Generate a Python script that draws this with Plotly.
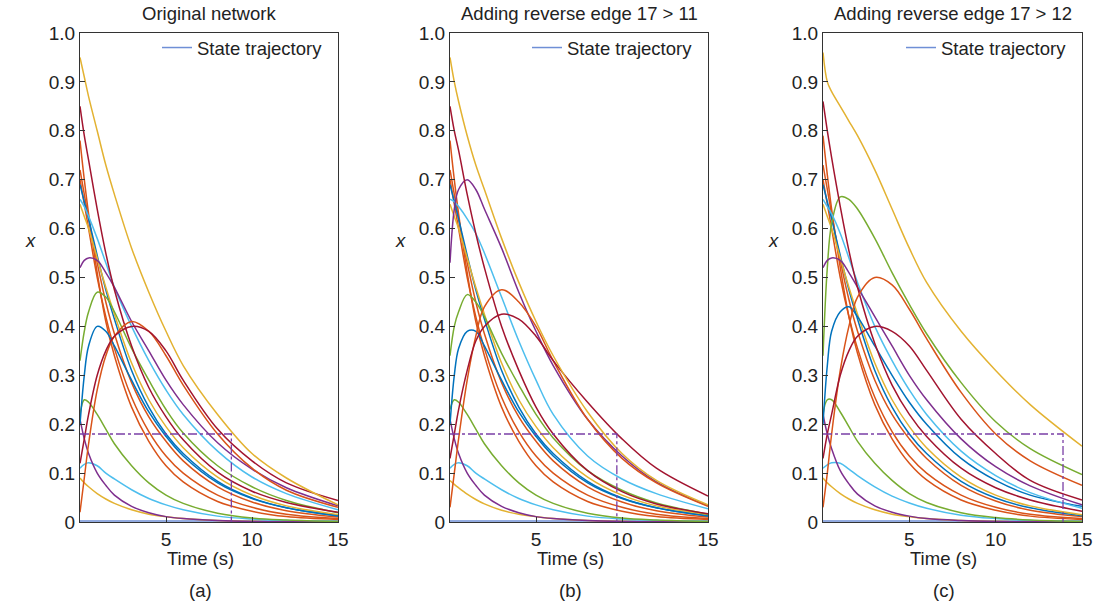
import plotly.graph_objects as go

# Sample times (s) shared by every trajectory
t = [0, 0.25, 0.5, 1, 1.5, 2, 3, 4, 5, 6, 8, 10, 12, 15]

# MATLAB-style line colours
BLUE, ORANGE, YELLOW, PURPLE = "#0072BD", "#D95319", "#E3B231", "#7E2F8E"
GREEN, LIGHTBLUE, DARKRED = "#77AC30", "#4DBEEE", "#A2142F"
BASE = "#6f8fd6"

# ---------------- (a) Original network ----------------
a_yellow_top = [0.95, 0.91, 0.87, 0.80, 0.73, 0.67, 0.56, 0.47, 0.39, 0.32, 0.22, 0.14, 0.09, 0.035]
a_darkred_fast = [0.85, 0.79, 0.74, 0.64, 0.55, 0.475, 0.36, 0.275, 0.215, 0.168, 0.102, 0.063, 0.04, 0.02]
a_orange_1 = [0.78, 0.70, 0.63, 0.51, 0.41, 0.34, 0.235, 0.165, 0.115, 0.082, 0.042, 0.022, 0.011, 0.005]
a_orange_2 = [0.72, 0.67, 0.62, 0.53, 0.45, 0.385, 0.285, 0.215, 0.165, 0.125, 0.072, 0.041, 0.023, 0.01]
a_orange_3 = [0.70, 0.65, 0.60, 0.50, 0.42, 0.355, 0.255, 0.185, 0.135, 0.10, 0.055, 0.03, 0.016, 0.007]
a_blue_2 = [0.69, 0.655, 0.62, 0.545, 0.475, 0.415, 0.31, 0.235, 0.18, 0.14, 0.083, 0.049, 0.029, 0.013]
a_yellow_2 = [0.65, 0.625, 0.60, 0.54, 0.48, 0.425, 0.325, 0.25, 0.195, 0.152, 0.092, 0.055, 0.033, 0.015]
a_lightblue = [0.66, 0.645, 0.625, 0.58, 0.53, 0.48, 0.40, 0.33, 0.27, 0.22, 0.145, 0.092, 0.058, 0.025]
a_purple = [0.52, 0.535, 0.54, 0.535, 0.51, 0.48, 0.41, 0.35, 0.29, 0.24, 0.162, 0.108, 0.07, 0.033]
a_green = [0.33, 0.39, 0.43, 0.47, 0.46, 0.43, 0.355, 0.29, 0.23, 0.182, 0.115, 0.072, 0.044, 0.019]
a_blue = [0.20, 0.30, 0.36, 0.40, 0.39, 0.36, 0.29, 0.225, 0.175, 0.135, 0.08, 0.048, 0.029, 0.012]
a_orange_late = [0.02, 0.09, 0.16, 0.27, 0.34, 0.38, 0.41, 0.39, 0.34, 0.28, 0.18, 0.11, 0.065, 0.03]
a_darkred_late = [0.12, 0.17, 0.22, 0.30, 0.35, 0.38, 0.40, 0.39, 0.35, 0.29, 0.19, 0.125, 0.08, 0.044]
a_green_low = [0.22, 0.25, 0.245, 0.22, 0.19, 0.16, 0.115, 0.08, 0.055, 0.038, 0.018, 0.008, 0.004, 0.001]
a_purple_low = [0.21, 0.17, 0.14, 0.10, 0.075, 0.055, 0.032, 0.019, 0.011, 0.007, 0.003, 0.001, 0.0005, 0.0]
a_lightblue_low = [0.11, 0.118, 0.121, 0.115, 0.10, 0.088, 0.066, 0.048, 0.035, 0.025, 0.012, 0.006, 0.003, 0.001]
a_yellow_low = [0.09, 0.08, 0.072, 0.058, 0.047, 0.038, 0.025, 0.016, 0.011, 0.007, 0.003, 0.0015, 0.0007, 0.0002]

# ---------------- (b) Adding reverse edge 17 > 11 ----------------
b_yellow_top = [0.95, 0.90, 0.86, 0.79, 0.73, 0.68, 0.58, 0.49, 0.41, 0.34, 0.225, 0.14, 0.085, 0.035]
b_darkred_fast = [0.85, 0.80, 0.76, 0.67, 0.59, 0.52, 0.40, 0.31, 0.235, 0.18, 0.105, 0.062, 0.037, 0.017]
b_orange_1 = [0.78, 0.70, 0.63, 0.51, 0.41, 0.34, 0.235, 0.165, 0.115, 0.082, 0.042, 0.022, 0.011, 0.005]
b_orange_2 = [0.72, 0.67, 0.62, 0.53, 0.45, 0.385, 0.285, 0.215, 0.165, 0.125, 0.072, 0.041, 0.023, 0.01]
b_orange_3 = [0.70, 0.65, 0.60, 0.50, 0.42, 0.355, 0.255, 0.185, 0.135, 0.10, 0.055, 0.03, 0.016, 0.007]
b_blue_2 = [0.69, 0.655, 0.62, 0.545, 0.475, 0.415, 0.31, 0.235, 0.18, 0.14, 0.083, 0.049, 0.029, 0.013]
b_yellow_2 = [0.65, 0.625, 0.60, 0.54, 0.48, 0.425, 0.325, 0.25, 0.195, 0.152, 0.092, 0.055, 0.033, 0.015]
b_lightblue = [0.66, 0.655, 0.645, 0.62, 0.59, 0.55, 0.46, 0.37, 0.29, 0.22, 0.135, 0.088, 0.058, 0.027]
b_purple = [0.53, 0.64, 0.68, 0.70, 0.68, 0.64, 0.56, 0.47, 0.39, 0.32, 0.21, 0.135, 0.082, 0.033]
b_green = [0.34, 0.40, 0.43, 0.465, 0.45, 0.42, 0.345, 0.28, 0.22, 0.172, 0.105, 0.065, 0.039, 0.016]
b_blue = [0.20, 0.30, 0.355, 0.39, 0.39, 0.36, 0.29, 0.225, 0.175, 0.135, 0.08, 0.048, 0.029, 0.012]
b_orange_late = [0.03, 0.10, 0.17, 0.29, 0.38, 0.44, 0.475, 0.45, 0.40, 0.33, 0.21, 0.13, 0.08, 0.032]
b_darkred_late = [0.13, 0.18, 0.23, 0.31, 0.37, 0.40, 0.425, 0.415, 0.38, 0.33, 0.245, 0.17, 0.11, 0.053]
b_green_low = [0.23, 0.25, 0.245, 0.22, 0.19, 0.16, 0.115, 0.08, 0.055, 0.038, 0.018, 0.008, 0.004, 0.001]
b_purple_low = [0.21, 0.17, 0.14, 0.10, 0.075, 0.055, 0.032, 0.019, 0.011, 0.007, 0.003, 0.001, 0.0005, 0.0]
b_lightblue_low = [0.11, 0.118, 0.121, 0.115, 0.10, 0.088, 0.066, 0.048, 0.035, 0.025, 0.012, 0.006, 0.003, 0.001]
b_yellow_low = [0.085, 0.077, 0.07, 0.057, 0.046, 0.037, 0.024, 0.016, 0.011, 0.007, 0.003, 0.0015, 0.0007, 0.0002]

# ---------------- (c) Adding reverse edge 17 > 12 ----------------
c_yellow_top = [0.96, 0.90, 0.88, 0.85, 0.82, 0.79, 0.72, 0.64, 0.56, 0.49, 0.39, 0.31, 0.24, 0.155]
c_darkred_fast = [0.86, 0.80, 0.745, 0.645, 0.555, 0.48, 0.365, 0.28, 0.22, 0.175, 0.11, 0.07, 0.045, 0.022]
c_orange_1 = [0.79, 0.71, 0.64, 0.52, 0.42, 0.345, 0.24, 0.17, 0.12, 0.086, 0.045, 0.024, 0.012, 0.005]
c_orange_2 = [0.73, 0.68, 0.63, 0.535, 0.455, 0.39, 0.29, 0.22, 0.17, 0.13, 0.075, 0.043, 0.024, 0.011]
c_orange_3 = [0.70, 0.65, 0.60, 0.50, 0.42, 0.355, 0.255, 0.185, 0.135, 0.10, 0.055, 0.03, 0.016, 0.007]
c_blue_2 = [0.69, 0.655, 0.62, 0.545, 0.475, 0.415, 0.31, 0.235, 0.18, 0.14, 0.083, 0.049, 0.029, 0.013]
c_yellow_2 = [0.65, 0.625, 0.60, 0.54, 0.48, 0.425, 0.325, 0.25, 0.195, 0.152, 0.092, 0.055, 0.033, 0.015]
c_lightblue = [0.66, 0.645, 0.63, 0.59, 0.54, 0.49, 0.40, 0.33, 0.27, 0.22, 0.145, 0.095, 0.06, 0.028]
c_purple = [0.52, 0.535, 0.54, 0.535, 0.51, 0.48, 0.42, 0.36, 0.30, 0.25, 0.17, 0.113, 0.074, 0.035]
c_green = [0.34, 0.52, 0.61, 0.665, 0.66, 0.64, 0.58, 0.51, 0.445, 0.385, 0.285, 0.205, 0.15, 0.097]
c_blue = [0.20, 0.32, 0.39, 0.43, 0.44, 0.42, 0.36, 0.30, 0.245, 0.20, 0.13, 0.085, 0.055, 0.032]
c_orange_late = [0.03, 0.10, 0.18, 0.31, 0.40, 0.46, 0.50, 0.485, 0.435, 0.375, 0.265, 0.18, 0.125, 0.075]
c_darkred_late = [0.13, 0.18, 0.22, 0.30, 0.35, 0.38, 0.40, 0.39, 0.36, 0.31, 0.21, 0.14, 0.085, 0.045]
c_green_low = [0.22, 0.25, 0.25, 0.225, 0.195, 0.165, 0.12, 0.085, 0.058, 0.04, 0.019, 0.009, 0.004, 0.001]
c_purple_low = [0.22, 0.18, 0.15, 0.105, 0.078, 0.057, 0.033, 0.02, 0.012, 0.007, 0.003, 0.001, 0.0005, 0.0]
c_lightblue_low = [0.11, 0.117, 0.121, 0.12, 0.108, 0.095, 0.072, 0.053, 0.039, 0.028, 0.014, 0.007, 0.003, 0.001]
c_yellow_low = [0.09, 0.08, 0.072, 0.058, 0.047, 0.038, 0.025, 0.016, 0.011, 0.007, 0.003, 0.0015, 0.0007, 0.0002]

baseline = [0.002] * len(t)

# Settling marker: threshold level and the time the last state falls below it
threshold = 0.18
settle_time = [8.8, 9.7, 13.9]

titles = ["Original network", "Adding reverse edge 17 > 11", "Adding reverse edge 17 > 12"]
panel_tags = ["(a)", "(b)", "(c)"]
y_ticks = [0, 0.1, 0.2, 0.3, 0.4, 0.5, 0.6, 0.7, 0.8, 0.9, 1.0]
y_ticktext = ["0", "0.1", "0.2", "0.3", "0.4", "0.5", "0.6", "0.7", "0.8", "0.9", "1.0"]
x_ticks = [5, 10, 15]

SERIES_KEYS = [
    ("yellow_low", YELLOW), ("lightblue_low", LIGHTBLUE), ("purple_low", PURPLE),
    ("green_low", GREEN), ("orange_3", ORANGE), ("orange_2", ORANGE),
    ("orange_1", ORANGE), ("blue_2", BLUE), ("yellow_2", YELLOW),
    ("blue", BLUE), ("green", GREEN), ("lightblue", LIGHTBLUE),
    ("purple", PURPLE), ("darkred_fast", DARKRED), ("orange_late", ORANGE),
    ("darkred_late", DARKRED), ("yellow_top", YELLOW),
]

W, H = 1095, 608
# plot-area pixel boxes (left, right) and shared (top, bottom)
x_px = [(80, 338), (450, 708), (823, 1082)]
top_px, bot_px = 33, 522
ydom = [(H - bot_px) / H, (H - top_px) / H]

fig = go.Figure()
txt_font = dict(family="Liberation Sans, Arial, sans-serif", size=18.5, color="#222222")
tick_font = dict(family="Liberation Sans, Arial, sans-serif", size=19, color="#222222")
layout = dict(
    width=W, height=H, margin=dict(l=0, r=0, t=0, b=0, autoexpand=False),
    paper_bgcolor="white", plot_bgcolor="white",
    font=txt_font, annotations=[],
)

for i, pre in enumerate(("a", "b", "c")):
    sfx = "" if i == 0 else str(i + 1)
    xa, ya = "x" + sfx, "y" + sfx
    leg = "legend" + sfx

    # state resting at zero, carrying the legend entry
    fig.add_trace(go.Scatter(
        x=t, y=baseline, mode="lines", line=dict(color=BASE, width=1.5),
        name="State trajectory", showlegend=True, legend=leg,
        xaxis=xa, yaxis=ya, hoverinfo="skip"))

    for key, col in SERIES_KEYS:
        ys = globals()[f"{pre}_{key}"]
        fig.add_trace(go.Scatter(
            x=t, y=ys, mode="lines",
            line=dict(color=col, width=1.5, shape="spline", smoothing=1.0),
            showlegend=False, xaxis=xa, yaxis=ya, hoverinfo="skip"))

    ts = settle_time[i]
    fig.add_trace(go.Scatter(
        x=[0, ts, ts], y=[threshold, threshold, 0], mode="lines",
        line=dict(color="#7a3fa6", width=1.3, dash="dashdot"),
        showlegend=False, xaxis=xa, yaxis=ya, hoverinfo="skip"))

    x0, x1 = x_px[i]
    layout["xaxis" + sfx] = dict(
        domain=[x0 / W, x1 / W], range=[0, 15], anchor=ya,
        tickmode="array", tickvals=x_ticks, ticks="inside", ticklen=5, tickwidth=1.2,
        tickcolor="#333333", showline=True, mirror=True, linecolor="#333333", linewidth=1.3,
        showgrid=False, zeroline=False, tickfont=tick_font, fixedrange=True)
    layout["yaxis" + sfx] = dict(
        domain=ydom, range=[0, 1], anchor=xa,
        tickmode="array", tickvals=y_ticks, ticktext=y_ticktext, ticks="inside", ticklen=5,
        tickwidth=1.2, tickcolor="#333333", showline=True, mirror=True, linecolor="#333333",
        linewidth=1.3, showgrid=False, zeroline=False, tickfont=tick_font, fixedrange=True)
    layout[leg] = dict(
        x=(x1 - 10) / W, y=(H - 48) / H, xanchor="right", yanchor="middle",
        bgcolor="rgba(0,0,0,0)", borderwidth=0, font=txt_font, itemwidth=30)

    cx = (x0 + x1) / 2
    layout["annotations"] += [
        dict(text=titles[i], x=cx / W, y=(H - 13) / H, xref="paper", yref="paper",
             showarrow=False, xanchor="center", yanchor="middle", font=txt_font),
        dict(text="Time (s)", x=(cx - 9) / W, y=(H - 558) / H, xref="paper", yref="paper",
             showarrow=False, xanchor="center", yanchor="middle", font=txt_font),
        dict(text=panel_tags[i], x=(cx - 9) / W, y=(H - 590) / H, xref="paper", yref="paper",
             showarrow=False, xanchor="center", yanchor="middle", font=txt_font),
        dict(text="<i>x</i>", x=(x0 - 50) / W, y=(H - 240) / H, xref="paper", yref="paper",
             showarrow=False, xanchor="center", yanchor="middle", font=txt_font),
    ]

fig.update_layout(**layout)
fig.write_html("out.html")
